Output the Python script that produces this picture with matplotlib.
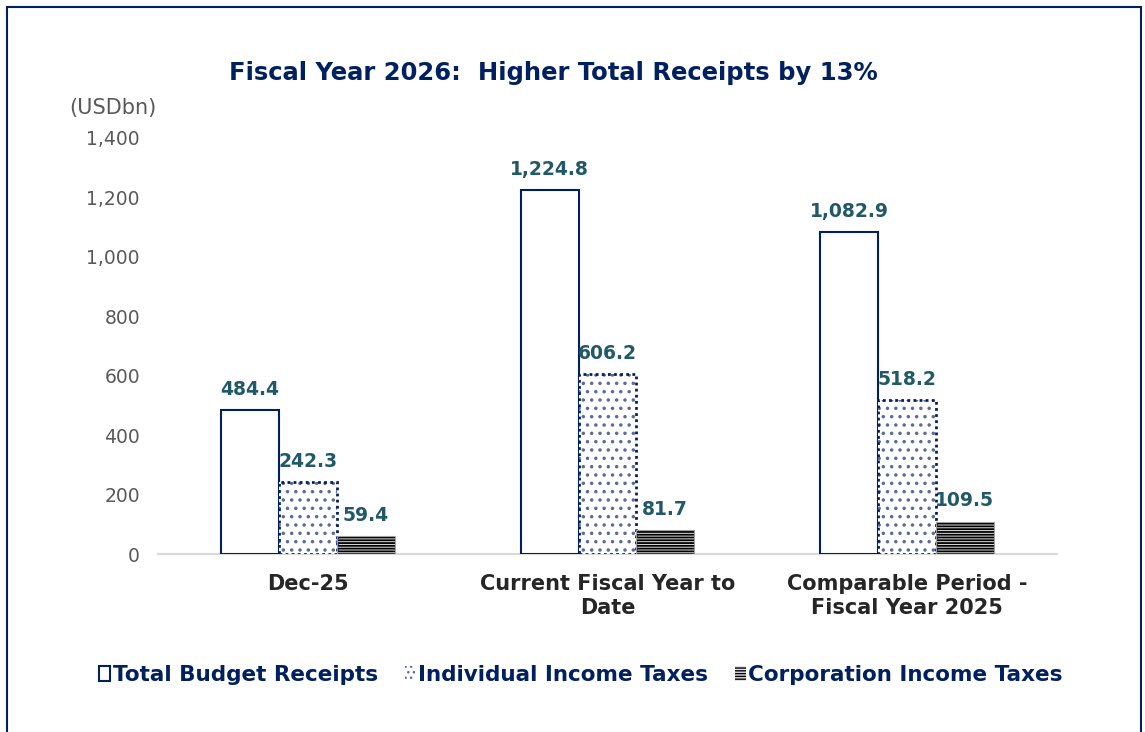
import numpy as np
import matplotlib.pyplot as plt
from matplotlib.patches import Patch, Rectangle

# receipts by period, USD bn
periods = ['Dec-25', 'Current Fiscal Year to\nDate', 'Comparable Period -\nFiscal Year 2025']
series = ['Total Budget Receipts', 'Individual Income Taxes', 'Corporation Income Taxes']
total_receipts = [484.4, 1224.8, 1082.9]
individual_taxes = [242.3, 606.2, 518.2]
corporation_taxes = [59.4, 81.7, 109.5]
yticks = [0, 200, 400, 600, 800, 1000, 1200, 1400]

NAVY = '#002060'
TEAL = '#215968'
DOTS = '#5b6b9b'
GREY_TXT = '#595959'

plt.rcParams['font.family'] = 'DejaVu Sans'

fig = plt.figure(figsize=(11.45, 7.32), dpi=100)
ax = fig.add_axes([0.138, 0.243, 0.785, 0.5685])

# outer frame
fig.patches.append(Rectangle((7 / 1145, -0.05), 1134 / 1145, 1.05 - 7 / 732,
                             transform=fig.transFigure, fill=False,
                             edgecolor=NAVY, lw=1.5, zorder=0))

x = np.arange(len(periods))
w = 0.193

b1 = ax.bar(x - w, total_receipts, w, color='white', edgecolor=NAVY, lw=1.5, zorder=3)

b2 = ax.bar(x, individual_taxes, w, color='white', edgecolor=DOTS, lw=0,
            hatch='..', zorder=3)
ax.bar(x, individual_taxes, w, fill=False, edgecolor=NAVY, lw=2,
       linestyle=(0, (1, 1.2)), zorder=4)

b3 = ax.bar(x + w, corporation_taxes, w, color='#e2e2e2', edgecolor='black', lw=0,
            hatch='------', zorder=3)
ax.bar(x + w, corporation_taxes, w, fill=False, edgecolor='#a0a0a0', lw=0.8, zorder=4)

for bars, hlw in ((b2, 1.3), (b3, 1.3)):
    for p in bars:
        if hasattr(p, 'set_hatch_linewidth'):
            p.set_hatch_linewidth(hlw)

for bars, vals in ((b1, total_receipts), (b2, individual_taxes), (b3, corporation_taxes)):
    for p, v in zip(bars, vals):
        ax.annotate(f'{v:,.1f}', (p.get_x() + p.get_width() / 2, v),
                    xytext=(0, 8), textcoords='offset points',
                    ha='center', va='bottom', fontsize=13.5, fontweight='bold',
                    color=TEAL)

ax.set_xlim(-0.5, 2.5)
ax.set_ylim(0, 1400)
ax.set_yticks(yticks)
ax.set_yticklabels([f'{t:,}' for t in yticks], fontsize=13.5, color=GREY_TXT)
ax.set_xticks(x)
ax.set_xticklabels(periods, fontsize=15, fontweight='bold', color='#262626',
                   linespacing=1.28)
ax.tick_params(axis='both', length=0)
ax.tick_params(axis='x', pad=14)
ax.tick_params(axis='y', pad=13)
for s in ['top', 'right', 'left']:
    ax.spines[s].set_visible(False)
ax.spines['bottom'].set_color('#d9d9d9')
ax.spines['bottom'].set_linewidth(1.5)

fig.text(113 / 1145, 1 - 108 / 732, '(USDbn)', ha='center', va='center',
         fontsize=15, color=GREY_TXT)
fig.text(553 / 1145, 1 - 73 / 732, 'Fiscal Year 2026:  Higher Total Receipts by 13%',
         ha='center', va='center', fontsize=17.5, fontweight='bold', color=NAVY)

handles = [
    Patch(facecolor='white', edgecolor=NAVY, lw=1.5),
    Patch(facecolor='white', edgecolor=DOTS, hatch='...', lw=0),
    Patch(facecolor='#e2e2e2', edgecolor='black', hatch='------', lw=0),
]
leg = fig.legend(handles, series, loc='center', bbox_to_anchor=(581 / 1145, 1 - 675 / 732),
                 ncol=3, frameon=False, handlelength=0.5, handleheight=0.7,
                 handletextpad=0.12, columnspacing=1.25,
                 prop={'size': 15.5, 'weight': 'bold'})
for t in leg.get_texts():
    t.set_color(NAVY)

fig.savefig('out.png', dpi=100)
